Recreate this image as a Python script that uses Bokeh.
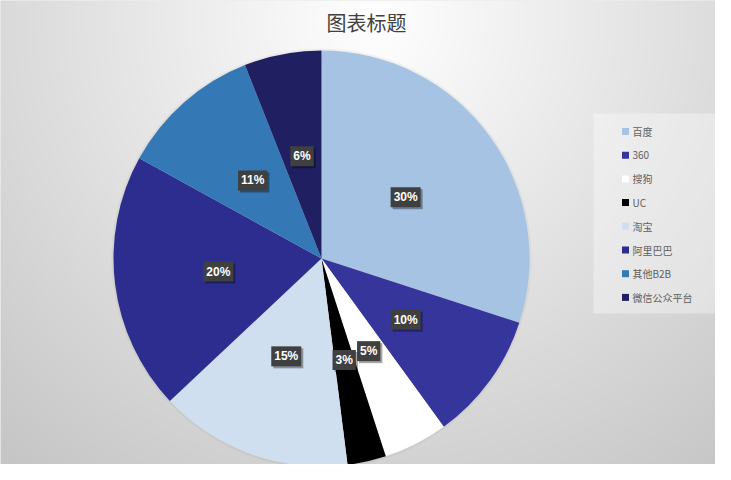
import numpy as np
from bokeh.plotting import figure
from bokeh.models import ColumnDataSource, Label, Range1d
from bokeh.embed import file_html
from bokeh.resources import INLINE
from bokeh.core.properties import value

# ---- data ----
categories = ["百度", "360", "搜狗", "UC", "淘宝", "阿里巴巴", "其他B2B", "微信公众平台"]
shares = [30, 10, 5, 3, 15, 20, 11, 6]
colors = ["#a6c3e3", "#35359b", "#ffffff", "#000000", "#cfdff0", "#2d2d8f", "#3578b6", "#1f1f62"]
title_text = "图表标题"

# ---- layout (pixel space, 1 data unit = 1 px) ----
W, H = 715, 464
OFF = 0


def fx(X):
    return X - OFF


def fy(Y):
    return H + OFF - Y


p = figure(width=W, height=H, output_backend="svg", toolbar_location=None,
           x_range=Range1d(0, W), y_range=Range1d(0, H), min_border=0,
           x_axis_location=None, y_axis_location=None)
p.grid.visible = False
p.outline_line_color = None
p.background_fill_color = "#dcdcdc"
p.border_fill_color = "#dcdcdc"

# background radial gradient
ys, xs = np.mgrid[0:H, 0:W]
X = xs + 0.5 + OFF
Y = (H - ys - 0.5) + OFF
d = np.hypot(X - 375, (Y - 20) * 1.0)
g = (255 - 60 * np.clip(d / 600.0, 0, 1)).astype(np.uint8)
img = np.empty((H, W), dtype=np.uint32)
view = img.view(dtype=np.uint8).reshape((H, W, 4))
view[..., 0] = g
view[..., 1] = g
view[..., 2] = g
view[..., 3] = 255
p.image_rgba(image=[img], x=0, y=0, dw=W, dh=H)

# pie
cx, cy, R = fx(321), fy(258), 208
frac = np.array(shares, dtype=float) / sum(shares)
cum = np.concatenate([[0.0], np.cumsum(frac)])
start = np.pi / 2 - cum[:-1] * 2 * np.pi
end = np.pi / 2 - cum[1:] * 2 * np.pi
mid = (start + end) / 2
src = ColumnDataSource(dict(
    cat=categories, share=shares, color=colors, start=start, end=end,
    lx=cx + 0.5 * R * np.cos(mid), ly=cy + 0.5 * R * np.sin(mid),
    lbl=[f"{s}%" for s in shares],
))

# soft glow behind pie
p.circle(x=cx, y=cy, radius=R + 2, fill_color="#000000", fill_alpha=0.04, line_color=None)
p.wedge(x=cx, y=cy, radius=R, start_angle="start", end_angle="end", direction="clock",
        fill_color="color", line_color=None, source=src)

# data labels with shadow
p.text(x="lx", y="ly", text="lbl", source=src, x_offset=2, y_offset=2,
       text_align="center", text_baseline="middle", text_font=value("Liberation Sans"),
       text_font_size="12px", text_font_style="bold", text_alpha=0.0,
       background_fill_color="#000000", background_fill_alpha=0.35, padding=3)
p.text(x="lx", y="ly", text="lbl", source=src,
       text_align="center", text_baseline="middle", text_font=value("Liberation Sans"),
       text_font_size="12px", text_font_style="bold", text_color="#ffffff",
       background_fill_color="#404040", background_fill_alpha=1.0, padding=3)

# legend
p.quad(left=fx(593), right=min(fx(722), W), top=fy(113), bottom=fy(313),
       fill_color="#ffffff", fill_alpha=0.35, line_color=None)
row_y = [fy(131 + i * 23.7) for i in range(len(categories))]
leg = ColumnDataSource(dict(cat=categories, color=colors, y=row_y,
                            mx=[fx(625)] * len(categories), tx=[fx(632)] * len(categories)))
p.scatter(x="mx", y="y", marker="square", size=7, fill_color="color", line_color=None, source=leg)
p.text(x="tx", y="y", text="cat", source=leg, text_font=value("Noto Sans CJK SC"),
       text_font_size="10px", text_color="#606060", text_baseline="middle", text_align="left")

# title
p.add_layout(Label(x=fx(366), y=fy(22), text=title_text, text_align="center", text_baseline="middle",
                   text_font="Noto Sans CJK SC", text_font_size="20px", text_color="#404040"))

open("out.html", "w").write(file_html(p, INLINE))
